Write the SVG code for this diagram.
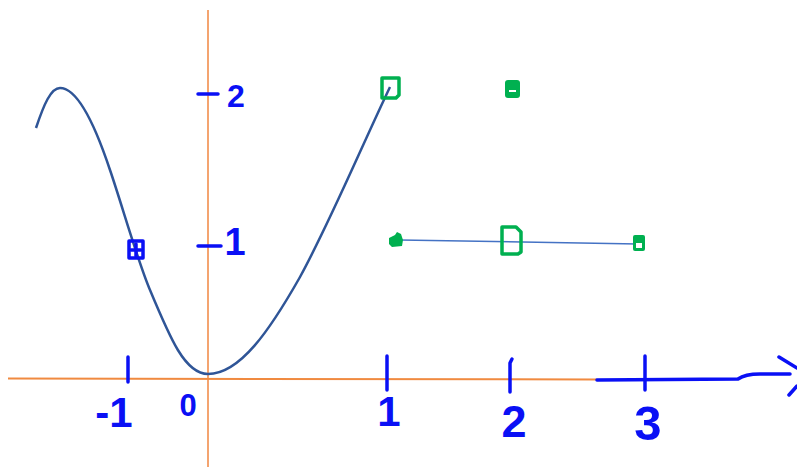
<svg xmlns="http://www.w3.org/2000/svg" width="797" height="467" viewBox="0 0 797 467">
<style>
.ink{stroke:#0a10f5;stroke-width:3.5;fill:none;stroke-linecap:round;stroke-linejoin:round}
.lbl{font-family:"Liberation Sans",Arial,sans-serif;font-weight:bold;fill:#0a10f5;text-anchor:middle}
.grn{stroke:#00b050;stroke-width:3.5;fill:none;stroke-linejoin:round}
.grnf{fill:#00b050}
</style>
<rect width="797" height="467" fill="#ffffff"/>
<g id="axes">
<line x1="208" y1="10" x2="208" y2="467" stroke="#f4a470" stroke-width="2"/>
<line x1="8" y1="378.5" x2="597" y2="379.5" stroke="#f08a40" stroke-width="2"/>
<path class="ink" d="M597,380 L738,379 Q745,374 760,374 L790,374"/>
<path class="ink" d="M779,357 L797,368 M789,395 L797,386"/>
</g>
<g id="curve">
<path d="M36,128 C44,104 51,88 60,88 C74,88 90,110 110,170 C122,205 138,262 150,290 C170,338 185,374 208,374 C240,374 270,330 300,277 C330,222 360,150 390,87" stroke="#2f5597" stroke-width="2.5" fill="none"/>
</g>
<g id="y-ticks">
<line class="ink" x1="198" y1="94" x2="218" y2="94"/>
<text class="lbl" x="236" y="107" font-size="32">2</text>
<line class="ink" x1="198" y1="246" x2="221" y2="246"/>
<text class="lbl" x="235" y="255" font-size="38">1</text>
</g>
<g id="x-ticks">
<line class="ink" x1="128" y1="357" x2="128" y2="382"/>
<text class="lbl" x="114" y="427" font-size="42">-1</text>
<text class="lbl" x="188" y="416" font-size="31">0</text>
<line class="ink" x1="387" y1="356" x2="387" y2="390"/>
<text class="lbl" x="389" y="426" font-size="42">1</text>
<path class="ink" d="M512,359 L510,363 L510,392"/>
<text class="lbl" x="514" y="437" font-size="45">2</text>
<line class="ink" x1="645" y1="356" x2="645" y2="390"/>
<text class="lbl" x="648" y="440" font-size="49">3</text>
</g>
<g id="point-a">
<rect x="129" y="241" width="14" height="17" class="ink"/>
<path class="ink" d="M131,250 L141,250 M136,244 L136,256"/>
</g>
<g id="point-b">
<path class="grn" d="M382,78 L399,78 L399,95 L396,98 L382,98 Z"/>
</g>
<g id="point-c">
<rect x="505" y="80" width="15" height="18" rx="3" class="grnf"/>
<line x1="509" y1="91" x2="516" y2="91" stroke="#fff" stroke-width="2"/>
</g>
<g id="connectors">
<line x1="400" y1="240" x2="638" y2="244" stroke="#4472c4" stroke-width="1.5"/>
</g>
<g id="point-d">
<path class="grnf" d="M389,238 L395,235 L397,232 L401,234 L403,240 L402,246 L392,247 L389,244 Z"/>
</g>
<g id="point-e">
<path class="grn" d="M502,227 L516,227 L521,232 L521,252 L518,254 L502,254 Z"/>
</g>
<g id="point-f">
<rect x="633" y="235" width="12" height="16" rx="2" class="grnf"/>
<rect x="636" y="243" width="6" height="5" fill="#fff"/>
</g>
</svg>
